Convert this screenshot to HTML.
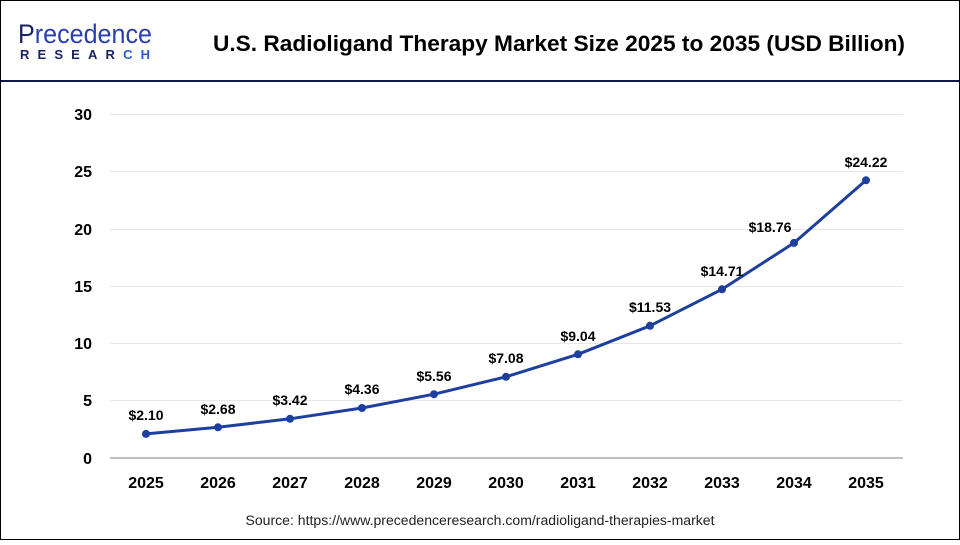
<!DOCTYPE html>
<html><head><style>
body{margin:0;width:960px;height:540px;overflow:hidden;background:#fff;font-family:"Liberation Sans",Arial,sans-serif}
</style></head><body>
<svg width="960" height="540" viewBox="0 0 960 540" xmlns="http://www.w3.org/2000/svg" font-family="Liberation Sans, Arial, sans-serif">
<rect x="0.5" y="0.5" width="959" height="539" fill="#fff" stroke="#000" stroke-width="1"/>
<line x1="1" y1="81" x2="959" y2="81" stroke="#0f1a4a" stroke-width="2"/>
<text x="18" y="43" font-size="27" fill="#1a2366" textLength="134" lengthAdjust="spacingAndGlyphs">P<tspan fill="#2a3fb0">recedence</tspan></text>
<text x="20" y="59" font-size="13" fill="#1a2366" font-weight="bold" textLength="130" lengthAdjust="spacing">RESEAR<tspan fill="#2a5ad8">CH</tspan></text>
<text x="559" y="51" font-size="22.5" font-weight="bold" text-anchor="middle" fill="#000" textLength="692" lengthAdjust="spacingAndGlyphs">U.S. Radioligand Therapy Market Size 2025 to 2035 (USD Billion)</text>
<g stroke="#e6e6e6" stroke-width="1">
<line x1="110" y1="114.5" x2="903" y2="114.5"/><line x1="110" y1="171.5" x2="903" y2="171.5"/>
<line x1="110" y1="229.5" x2="903" y2="229.5"/><line x1="110" y1="286.5" x2="903" y2="286.5"/>
<line x1="110" y1="343.5" x2="903" y2="343.5"/><line x1="110" y1="400.5" x2="903" y2="400.5"/>
</g>
<line x1="110" y1="458" x2="903" y2="458" stroke="#bfbfbf" stroke-width="2"/>
<g font-size="16" font-weight="bold" text-anchor="end" fill="#000">
<text x="92" y="120">30</text><text x="92" y="177">25</text><text x="92" y="235">20</text>
<text x="92" y="292">15</text><text x="92" y="349">10</text><text x="92" y="406">5</text><text x="92" y="464">0</text>
</g>
<g font-size="16" font-weight="bold" text-anchor="middle" fill="#000">
<text x="146" y="488">2025</text><text x="218" y="488">2026</text><text x="290" y="488">2027</text>
<text x="362" y="488">2028</text><text x="434" y="488">2029</text><text x="506" y="488">2030</text>
<text x="578" y="488">2031</text><text x="650" y="488">2032</text><text x="722" y="488">2033</text>
<text x="794" y="488">2034</text><text x="866" y="488">2035</text>
</g>
<polyline fill="none" stroke="#1d3f9e" stroke-width="3" stroke-linejoin="round" points="146,433.9 218,427.3 290,418.8 362,408 434,394.2 506,376.8 578,354.3 650,325.8 722,289.3 794,242.9 866,180.3"/>
<g fill="#1d3f9e">
<circle cx="146" cy="433.9" r="4"/><circle cx="218" cy="427.3" r="4"/><circle cx="290" cy="418.8" r="4"/>
<circle cx="362" cy="408" r="4"/><circle cx="434" cy="394.2" r="4"/><circle cx="506" cy="376.8" r="4"/>
<circle cx="578" cy="354.3" r="4"/><circle cx="650" cy="325.8" r="4"/><circle cx="722" cy="289.3" r="4"/>
<circle cx="794" cy="242.9" r="4"/><circle cx="866" cy="180.3" r="4"/>
</g>
<g font-size="14" font-weight="bold" text-anchor="middle" fill="#000">
<text x="146" y="420">$2.10</text><text x="218" y="414">$2.68</text><text x="290" y="405">$3.42</text>
<text x="362" y="394">$4.36</text><text x="434" y="381">$5.56</text><text x="506" y="363">$7.08</text>
<text x="578" y="341">$9.04</text><text x="650" y="312">$11.53</text><text x="722" y="276">$14.71</text>
<text x="770" y="232">$18.76</text><text x="866" y="167">$24.22</text>
</g>
<text x="480" y="525" font-size="13.5" text-anchor="middle" fill="#222" textLength="469" lengthAdjust="spacingAndGlyphs">Source: https://www.precedenceresearch.com/radioligand-therapies-market</text>
</svg>
</body></html>
